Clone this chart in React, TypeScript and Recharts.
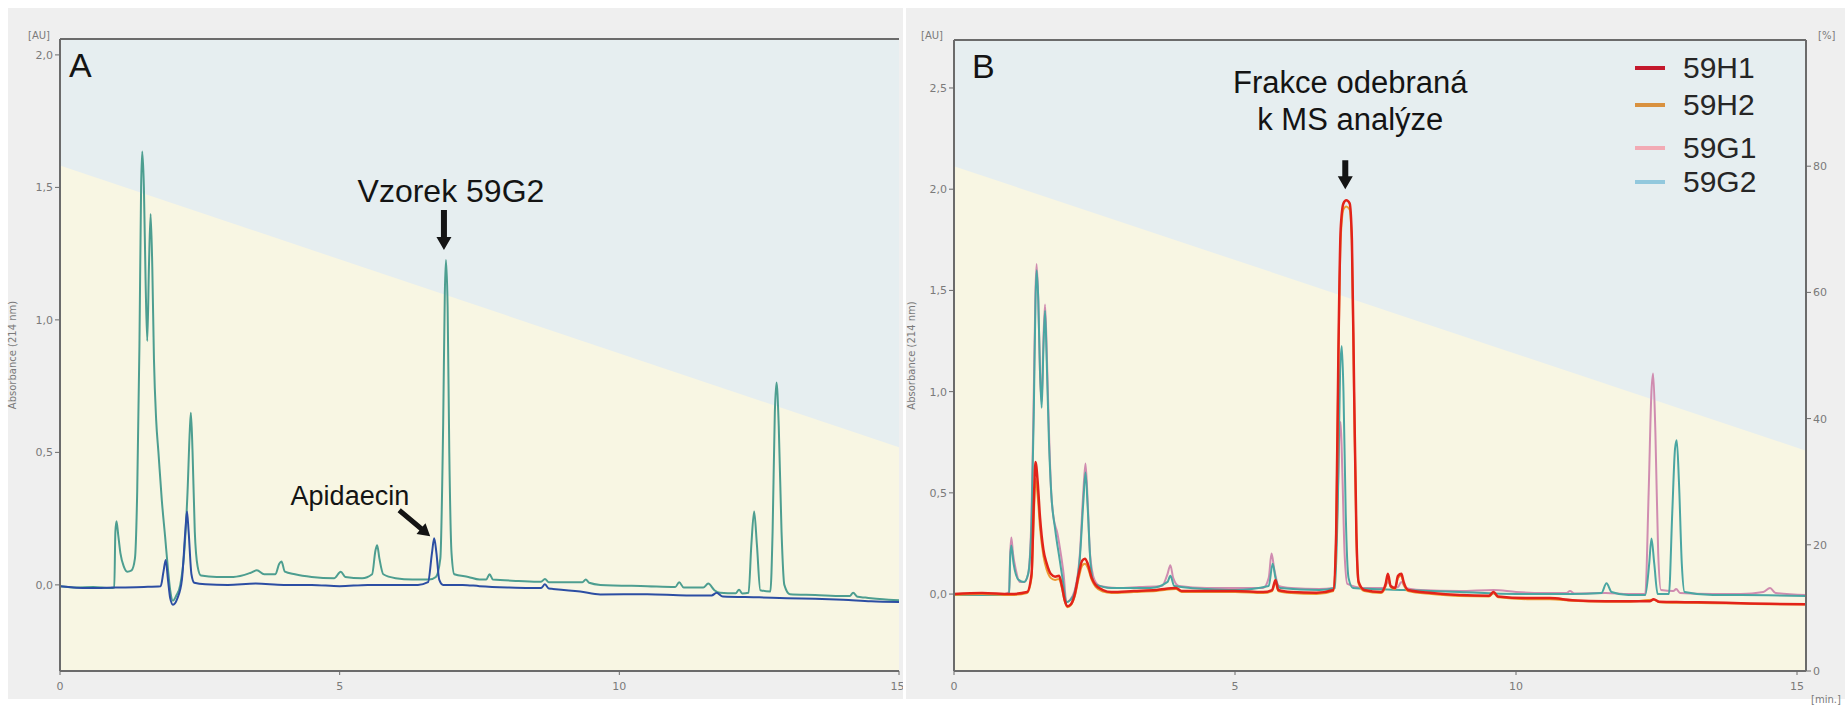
import React from "react";
import {
  ComposedChart,
  Line,
  Area,
  XAxis,
  YAxis,
  CartesianGrid,
  ReferenceLine,
  ReferenceDot,
  Legend,
} from "recharts";

type Trace = [number, number][];

// mobile phase gradient (% B), same program for both runs
const gradientTime = [0, 15.2];
const gradientPct = [80, 34.8];

const timeTicks = [0, 5, 10, 15];
const absTicksA = [0, 0.5, 1, 1.5, 2];
const absTicksB = [0, 0.5, 1, 1.5, 2, 2.5];
const pctTicks = [0, 20, 40, 60, 80];

const seriesNamesB = ["59H1", "59H2", "59G1", "59G2"];

// run A: fraction 59G2 and apidaecin standard, [min, AU]
const a59G2: Trace = [
  [0, -0.005], [0.3, -0.01], [0.6, -0.008], [0.9, -0.012], [0.97, -0.01], [0.99, 0.2], [1.01, 0.24],
  [1.04, 0.19], [1.08, 0.12], [1.14, 0.07], [1.2, 0.05], [1.28, 0.055], [1.34, 0.1], [1.38, 0.35],
  [1.42, 0.9], [1.45, 1.5], [1.47, 1.635], [1.5, 1.5], [1.53, 1.15], [1.56, 0.92], [1.59, 1.2],
  [1.62, 1.4], [1.65, 1.2], [1.68, 0.85], [1.72, 0.62], [1.76, 0.5], [1.82, 0.32], [1.88, 0.18],
  [1.93, 0.06], [1.97, -0.02], [2.02, -0.06], [2.08, -0.04], [2.15, 0.0], [2.22, 0.12], [2.28, 0.35],
  [2.32, 0.58], [2.34, 0.65], [2.37, 0.5], [2.41, 0.2], [2.46, 0.07], [2.52, 0.035], [2.8, 0.03],
  [3.1, 0.03], [3.4, 0.045], [3.52, 0.055], [3.65, 0.04], [3.85, 0.04], [3.92, 0.08], [3.96, 0.088],
  [4.02, 0.05], [4.2, 0.04], [4.5, 0.03], [4.9, 0.025], [5.02, 0.05], [5.1, 0.03], [5.4, 0.025],
  [5.58, 0.04], [5.64, 0.13], [5.67, 0.15], [5.71, 0.1], [5.78, 0.04], [6.0, 0.025], [6.3, 0.02],
  [6.6, 0.02], [6.72, 0.03], [6.8, 0.1], [6.85, 0.6], [6.88, 1.1], [6.9, 1.226], [6.93, 1.05],
  [6.96, 0.5], [7.0, 0.12], [7.05, 0.04], [7.3, 0.03], [7.5, 0.02], [7.62, 0.02], [7.68, 0.04],
  [7.74, 0.02], [8.2, 0.015], [8.6, 0.012], [8.67, 0.022], [8.74, 0.01], [9.0, 0.01], [9.34, 0.01],
  [9.4, 0.02], [9.46, 0.008], [9.66, 0.0], [10.5, -0.005], [11.0, -0.008], [11.07, 0.01],
  [11.15, -0.01], [11.5, -0.01], [11.59, 0.005], [11.7, -0.02], [11.8, -0.03], [12.08, -0.032],
  [12.14, -0.018], [12.2, -0.033], [12.31, -0.03], [12.36, 0.15], [12.41, 0.277], [12.46, 0.15],
  [12.52, -0.02], [12.7, -0.025], [12.74, 0.2], [12.78, 0.65], [12.81, 0.764], [12.85, 0.6],
  [12.9, 0.2], [12.95, 0.0], [13.05, -0.035], [13.5, -0.038], [14.0, -0.042], [14.12, -0.042],
  [14.18, -0.03], [14.26, -0.045], [14.4, -0.048], [14.9, -0.057], [15, -0.058],
];

const aApidaecin: Trace = [
  [0, -0.005], [0.5, -0.012], [1.0, -0.01], [1.5, -0.008], [1.8, -0.005], [1.85, 0.05], [1.89, 0.094],
  [1.93, 0.02], [1.97, -0.05], [2.02, -0.075], [2.1, -0.05], [2.18, 0.02], [2.24, 0.2], [2.27, 0.277],
  [2.3, 0.2], [2.35, 0.04], [2.4, 0.008], [2.6, 0.002], [3.0, 0.0], [3.5, 0.005], [4.0, 0.0], [4.5, 0.0],
  [5.0, -0.005], [5.5, 0.0], [6.0, 0.0], [6.4, 0.0], [6.58, 0.01], [6.65, 0.12], [6.69, 0.176],
  [6.73, 0.12], [6.78, 0.02], [6.85, 0.0], [7.2, 0.0], [7.5, -0.005], [8.0, -0.01], [8.4, -0.012],
  [8.6, -0.012], [8.67, 0.002], [8.74, -0.014], [8.8, -0.015], [9.3, -0.025], [9.66, -0.036],
  [10.5, -0.035], [11.2, -0.04], [11.65, -0.04], [11.74, -0.03], [11.85, -0.044], [12.5, -0.047],
  [13.0, -0.05], [13.5, -0.052], [14.0, -0.056], [14.5, -0.062], [15, -0.065],
];

// run B: four fractions
const b59H1: Trace = [
  [0, 0.0], [0.5, 0.005], [1.0, 0.0], [1.3, 0.01], [1.38, 0.1], [1.42, 0.45], [1.45, 0.653], [1.49, 0.55],
  [1.53, 0.38], [1.59, 0.22], [1.65, 0.15], [1.72, 0.1], [1.8, 0.086], [1.87, 0.09], [1.92, 0.04],
  [1.97, -0.03], [2.02, -0.06], [2.08, -0.05], [2.15, 0.0], [2.22, 0.1], [2.28, 0.165], [2.33, 0.175],
  [2.38, 0.15], [2.45, 0.08], [2.52, 0.045], [2.65, 0.02], [2.8, 0.01], [3.2, 0.015], [3.6, 0.02],
  [3.95, 0.03], [4.05, 0.015], [4.5, 0.015], [5.0, 0.015], [5.5, 0.01], [5.66, 0.02], [5.72, 0.07],
  [5.77, 0.02], [6.0, 0.01], [6.45, 0.006], [6.75, 0.02], [6.8, 0.3], [6.84, 1.2], [6.88, 1.8],
  [6.93, 1.93], [6.98, 1.945], [7.04, 1.93], [7.08, 1.75], [7.12, 1.0], [7.16, 0.3], [7.2, 0.06],
  [7.3, 0.02], [7.6, 0.01], [7.68, 0.05], [7.72, 0.1], [7.77, 0.04], [7.85, 0.03], [7.9, 0.09],
  [7.96, 0.1], [8.0, 0.06], [8.08, 0.02], [8.5, 0.005], [9.0, -0.005], [9.52, -0.008], [9.6, 0.01],
  [9.68, -0.012], [10.2, -0.02], [10.6, -0.02], [11.0, -0.03], [11.6, -0.035], [12.0, -0.035],
  [12.38, -0.035], [12.45, -0.025], [12.55, -0.038], [13.0, -0.04], [13.5, -0.042], [14.0, -0.045],
  [14.5, -0.048], [15.16, -0.05],
];

const b59H2: Trace = [
  [0, -0.005], [0.5, 0.0], [1.0, -0.005], [1.3, 0.005], [1.38, 0.08], [1.42, 0.38], [1.45, 0.57],
  [1.49, 0.48], [1.53, 0.33], [1.59, 0.19], [1.65, 0.12], [1.72, 0.08], [1.8, 0.07], [1.87, 0.075],
  [1.92, 0.03], [1.97, -0.035], [2.02, -0.065], [2.08, -0.055], [2.15, -0.01], [2.22, 0.08], [2.28, 0.14],
  [2.33, 0.15], [2.38, 0.13], [2.45, 0.07], [2.52, 0.035], [2.65, 0.012], [2.8, 0.005], [3.2, 0.01],
  [3.6, 0.015], [3.95, 0.025], [4.05, 0.01], [4.5, 0.01], [5.0, 0.01], [5.5, 0.005], [5.66, 0.015],
  [5.72, 0.06], [5.77, 0.015], [6.0, 0.005], [6.45, 0.0], [6.75, 0.015], [6.8, 0.28], [6.84, 1.15],
  [6.88, 1.75], [6.93, 1.9], [6.98, 1.915], [7.04, 1.9], [7.08, 1.72], [7.12, 0.95], [7.16, 0.28],
  [7.2, 0.05], [7.3, 0.015], [7.6, 0.005], [7.68, 0.04], [7.72, 0.09], [7.77, 0.035], [7.85, 0.025],
  [7.9, 0.08], [7.96, 0.09], [8.0, 0.05], [8.08, 0.015], [8.5, 0.0], [9.0, -0.01], [9.52, -0.012],
  [9.6, 0.005], [9.68, -0.016], [10.2, -0.025], [10.6, -0.025], [11.0, -0.033], [11.6, -0.038],
  [12.0, -0.038], [12.45, -0.028], [12.55, -0.04], [13.0, -0.043], [13.5, -0.045], [14.0, -0.047],
  [14.5, -0.05], [15.16, -0.052],
];

const b59G1: Trace = [
  [0, 0.0], [0.5, 0.0], [0.9, 0.0], [0.98, 0.01], [1.0, 0.2], [1.02, 0.28], [1.05, 0.2], [1.1, 0.12],
  [1.17, 0.06], [1.25, 0.06], [1.32, 0.1], [1.38, 0.4], [1.42, 1.0], [1.45, 1.5], [1.47, 1.63],
  [1.5, 1.45], [1.53, 1.1], [1.56, 0.95], [1.59, 1.25], [1.62, 1.43], [1.65, 1.2], [1.69, 0.8],
  [1.73, 0.5], [1.77, 0.38], [1.84, 0.3], [1.9, 0.2], [1.95, 0.1], [2.0, -0.04], [2.06, -0.03],
  [2.15, 0.02], [2.24, 0.2], [2.3, 0.5], [2.34, 0.645], [2.38, 0.45], [2.42, 0.2], [2.5, 0.07],
  [2.6, 0.04], [2.9, 0.03], [3.3, 0.035], [3.7, 0.04], [3.8, 0.1], [3.85, 0.143], [3.9, 0.08],
  [4.0, 0.04], [4.5, 0.03], [5.0, 0.03], [5.5, 0.03], [5.6, 0.08], [5.65, 0.2], [5.7, 0.12],
  [5.78, 0.04], [6.0, 0.03], [6.5, 0.025], [6.75, 0.03], [6.82, 0.4], [6.86, 0.8], [6.88, 0.85],
  [6.91, 0.6], [6.95, 0.2], [7.0, 0.05], [7.3, 0.03], [7.66, 0.03], [7.72, 0.06], [7.8, 0.03],
  [7.9, 0.035], [7.96, 0.06], [8.04, 0.03], [8.3, 0.02], [9.0, 0.015], [9.6, 0.02], [10.0, 0.01],
  [10.5, 0.005], [10.9, 0.005], [10.96, 0.015], [11.04, 0.003], [11.6, 0.005], [12.0, 0.0], [12.3, 0.0],
  [12.36, 0.5], [12.41, 1.0], [12.44, 1.09], [12.48, 0.8], [12.53, 0.2], [12.58, 0.02], [12.8, 0.015],
  [12.85, 0.025], [12.92, 0.005], [13.5, 0.0], [14.0, 0.0], [14.4, 0.01], [14.52, 0.03], [14.62, 0.005],
  [15.16, -0.005],
];

const b59G2: Trace = [
  [0, -0.005], [0.98, -0.005], [1.0, 0.18], [1.02, 0.24], [1.06, 0.15], [1.15, 0.07], [1.25, 0.06],
  [1.32, 0.1], [1.38, 0.35], [1.42, 0.9], [1.45, 1.45], [1.47, 1.6], [1.5, 1.45], [1.53, 1.1],
  [1.56, 0.92], [1.59, 1.2], [1.62, 1.4], [1.65, 1.15], [1.69, 0.75], [1.73, 0.5], [1.8, 0.32],
  [1.88, 0.17], [1.94, 0.06], [2.0, -0.04], [2.07, -0.03], [2.15, 0.01], [2.24, 0.18], [2.3, 0.45],
  [2.34, 0.6], [2.38, 0.42], [2.43, 0.15], [2.5, 0.05], [2.8, 0.03], [3.5, 0.03], [3.8, 0.06],
  [3.85, 0.09], [3.92, 0.04], [4.5, 0.025], [5.0, 0.02], [5.6, 0.04], [5.67, 0.15], [5.72, 0.08],
  [5.8, 0.03], [6.5, 0.02], [6.78, 0.03], [6.84, 0.6], [6.87, 1.1], [6.9, 1.225], [6.93, 1.0],
  [6.97, 0.4], [7.02, 0.08], [7.1, 0.03], [8.0, 0.02], [9.0, 0.01], [10.0, 0.0], [11.0, 0.0],
  [11.52, 0.005], [11.61, 0.053], [11.7, 0.01], [12.0, -0.005], [12.3, -0.005], [12.37, 0.15],
  [12.41, 0.275], [12.46, 0.15], [12.52, 0.0], [12.72, 0.0], [12.78, 0.4], [12.83, 0.72], [12.86, 0.76],
  [12.9, 0.55], [12.95, 0.15], [13.0, 0.01], [13.5, -0.005], [14.0, -0.005], [15.16, -0.01],
];

const W = 1845;
const H = 709;

const C = {
  page: "#ffffff",
  panel: "#efefef",
  upper: "#e6eef0",
  lower: "#f8f6e3",
  axis: "#6b6b6b",
  tick: "#7a7a7a",
  ink: "#141414",
  tealA: "#4d9e90",
  blueA: "#2c4ea3",
  red: "#e2231a",
  orange: "#ec9a32",
  pink: "#d08cb0",
  tealB: "#4aa6a2",
};

const lineColorB: Record<string, string> = {
  "59H1": C.red,
  "59H2": C.orange,
  "59G1": C.pink,
  "59G2": C.tealB,
};

const swatchColorB: Record<string, string> = {
  "59H1": "#c4182c",
  "59H2": "#d9913f",
  "59G1": "#f2aab4",
  "59G2": "#92c8dd",
};

const LABEL_FONT = "'Liberation Sans', Arial, sans-serif";
const TICK_FONT = "'DejaVu Sans', sans-serif";

const toPoints = (trace: Trace) => trace.map(([t, v]) => ({ t, v }));
const gradientPoints = gradientTime.map((t, i) => ({ t, pct: gradientPct[i] }));
const fmtAbs = (v: number) => v.toFixed(1).replace(".", ",");
const peakOf = (trace: Trace, from: number, to: number) =>
  trace.filter(([t]) => t >= from && t <= to).reduce((a, b) => (b[1] > a[1] ? b : a));

const tickStyle = { fontSize: 11, fill: C.tick, fontFamily: TICK_FONT };
const axisStroke = { stroke: C.axis, strokeWidth: 2 };

function downArrowPath(x: number, y1: number, y2: number) {
  const h = 13;
  return `M${x - 3},${y1} L${x + 3},${y1} L${x + 3},${y2 - h} L${x + 7.5},${y2 - h} L${x},${y2} L${x - 7.5},${y2 - h} L${x - 3},${y2 - h} Z`;
}

function slantArrow(x1: number, y1: number, x2: number, y2: number) {
  const len = Math.hypot(x2 - x1, y2 - y1);
  const ang = (Math.atan2(y2 - y1, x2 - x1) * 180) / Math.PI;
  const h = 12;
  const d = `M0,-2.5 L${len - h},-2.5 L${len - h},-7 L${len},0 L${len - h},7 L${len - h},2.5 L0,2.5 Z`;
  return <path d={d} fill={C.ink} transform={`translate(${x1},${y1}) rotate(${ang})`} />;
}

function SampleNote(props: any) {
  const { cx, cy } = props;
  return (
    <g>
      <text x={cx + 5} y={cy - 58} textAnchor="middle" fontSize={32} fontFamily={LABEL_FONT} fill={C.ink}>
        Vzorek 59G2
      </text>
      <path d={downArrowPath(cx - 2, cy - 50, cy - 10)} fill={C.ink} />
    </g>
  );
}

function StandardNote(props: any) {
  const { cx, cy } = props;
  return (
    <g>
      <text x={cx - 25} y={cy - 33} textAnchor="end" fontSize={27} fontFamily={LABEL_FONT} fill={C.ink}>
        Apidaecin
      </text>
      {slantArrow(cx - 35, cy - 28, cx - 4, cy - 2)}
    </g>
  );
}

function FractionNote(props: any) {
  const { cx, cy } = props;
  return (
    <g>
      <text x={cx + 4} y={cy - 107} textAnchor="middle" fontSize={31} fontFamily={LABEL_FONT} fill={C.ink}>
        Frakce odebraná
      </text>
      <text x={cx + 4} y={cy - 70} textAnchor="middle" fontSize={31} fontFamily={LABEL_FONT} fill={C.ink}>
        k MS analýze
      </text>
      <path d={downArrowPath(cx - 1, cy - 40, cy - 11)} fill={C.ink} />
    </g>
  );
}

// pairs of entries sit closer together than the two groups
const legendRowTop = [5, 42, 85, 119];

function FractionLegend({ payload }: any) {
  const items = (payload || [])
    .filter((p: any) => seriesNamesB.includes(p.value))
    .sort((a: any, b: any) => seriesNamesB.indexOf(a.value) - seriesNamesB.indexOf(b.value));
  return (
    <div style={{ position: "relative", width: 160, height: 160 }}>
      {items.map((p: any, i: number) => (
        <div
          key={p.value}
          style={{
            position: "absolute",
            left: 0,
            top: legendRowTop[i],
            height: 30,
            lineHeight: "30px",
            display: "flex",
            alignItems: "center",
            fontFamily: LABEL_FONT,
            fontSize: 30,
            color: "#262626",
          }}
        >
          <span style={{ width: 30, height: 4, background: swatchColorB[p.value], marginRight: 18 }} />
          {p.value}
        </div>
      ))}
    </div>
  );
}

const unitStyle: React.CSSProperties = {
  position: "absolute",
  fontFamily: TICK_FONT,
  fontSize: 10,
  color: C.tick,
  lineHeight: "12px",
};

const panelLetter: React.CSSProperties = {
  position: "absolute",
  fontFamily: LABEL_FONT,
  fontSize: 34,
  lineHeight: "34px",
  color: C.ink,
};

function RunA() {
  const xMax = 15;
  const yDom: [number, number] = [-0.325, 2.06];
  const [pt, pv] = peakOf(a59G2, 6.5, 7.2);
  const [st, sv] = peakOf(aApidaecin, 6.5, 6.8);
  return (
    <ComposedChart width={903} height={H} margin={{ top: 39, right: 4, bottom: 8, left: 10 }}>
      <CartesianGrid fill={C.upper} horizontal={false} vertical={false} xAxisId="t" yAxisId="abs" />
      <XAxis
        xAxisId="t"
        type="number"
        dataKey="t"
        domain={[0, xMax]}
        ticks={timeTicks}
        allowDataOverflow
        height={30}
        tickSize={4}
        tickMargin={7}
        axisLine={axisStroke}
        tickLine={{ stroke: C.axis }}
        tick={tickStyle}
      />
      <YAxis
        yAxisId="abs"
        type="number"
        domain={yDom}
        ticks={absTicksA}
        allowDataOverflow
        width={50}
        tickSize={5}
        tickFormatter={fmtAbs}
        axisLine={axisStroke}
        tickLine={{ stroke: C.axis }}
        tick={tickStyle}
        label={{
          value: "Absorbance (214 nm)",
          angle: -90,
          position: "insideLeft",
          offset: 2,
          style: { fontSize: 10, fill: C.tick, fontFamily: TICK_FONT, textAnchor: "middle" },
        }}
      />
      <YAxis yAxisId="pct" hide type="number" domain={[0, 100]} allowDataOverflow />
      <Area
        xAxisId="t"
        yAxisId="pct"
        data={gradientPoints}
        dataKey="pct"
        type="linear"
        stroke="none"
        fill={C.lower}
        fillOpacity={1}
        legendType="none"
        isAnimationActive={false}
      />
      <ReferenceLine xAxisId="t" yAxisId="abs" y={yDom[1]} stroke={C.axis} strokeWidth={2} />
      <Line
        xAxisId="t"
        yAxisId="abs"
        data={toPoints(a59G2)}
        dataKey="v"
        name="59G2"
        type="monotone"
        stroke={C.tealA}
        strokeWidth={2}
        dot={false}
        isAnimationActive={false}
      />
      <Line
        xAxisId="t"
        yAxisId="abs"
        data={toPoints(aApidaecin)}
        dataKey="v"
        name="Apidaecin"
        type="monotone"
        stroke={C.blueA}
        strokeWidth={2}
        dot={false}
        isAnimationActive={false}
      />
      <ReferenceDot xAxisId="t" yAxisId="abs" x={pt} y={pv} shape={(p: any) => <SampleNote {...p} />} />
      <ReferenceDot xAxisId="t" yAxisId="abs" x={st} y={sv} shape={(p: any) => <StandardNote {...p} />} />
    </ComposedChart>
  );
}

function RunB() {
  const xMax = 15.16;
  const yDom: [number, number] = [-0.38, 2.737];
  const [ft, fv] = peakOf(b59H1, 6.5, 7.5);
  const traces: Record<string, Trace> = { "59H1": b59H1, "59H2": b59H2, "59G1": b59G1, "59G2": b59G2 };
  // red fraction drawn last so it sits on top
  const drawOrder = ["59G1", "59G2", "59H2", "59H1"];
  return (
    <ComposedChart width={940} height={H} margin={{ top: 40, right: 4, bottom: 8, left: 4 }}>
      <CartesianGrid fill={C.upper} horizontal={false} vertical={false} xAxisId="t" yAxisId="abs" />
      <XAxis
        xAxisId="t"
        type="number"
        dataKey="t"
        domain={[0, xMax]}
        ticks={timeTicks}
        allowDataOverflow
        height={30}
        tickSize={4}
        tickMargin={7}
        axisLine={axisStroke}
        tickLine={{ stroke: C.axis }}
        tick={tickStyle}
      />
      <YAxis
        yAxisId="abs"
        type="number"
        domain={yDom}
        ticks={absTicksB}
        allowDataOverflow
        width={45}
        tickSize={5}
        tickFormatter={fmtAbs}
        axisLine={axisStroke}
        tickLine={{ stroke: C.axis }}
        tick={tickStyle}
        label={{
          value: "Absorbance (214 nm)",
          angle: -90,
          position: "insideLeft",
          offset: 2,
          style: { fontSize: 10, fill: C.tick, fontFamily: TICK_FONT, textAnchor: "middle" },
        }}
      />
      <YAxis
        yAxisId="pct"
        orientation="right"
        type="number"
        domain={[0, 100]}
        ticks={pctTicks}
        allowDataOverflow
        width={35}
        tickSize={5}
        axisLine={axisStroke}
        tickLine={{ stroke: C.axis }}
        tick={tickStyle}
      />
      <Area
        xAxisId="t"
        yAxisId="pct"
        data={gradientPoints}
        dataKey="pct"
        type="linear"
        stroke="none"
        fill={C.lower}
        fillOpacity={1}
        legendType="none"
        isAnimationActive={false}
      />
      <ReferenceLine xAxisId="t" yAxisId="abs" y={yDom[1]} stroke={C.axis} strokeWidth={2} />
      {drawOrder.map((name) => (
        <Line
          key={name}
          xAxisId="t"
          yAxisId="abs"
          data={toPoints(traces[name])}
          dataKey="v"
          name={name}
          type="monotone"
          stroke={lineColorB[name]}
          strokeWidth={name === "59H1" ? 2.5 : 2}
          dot={false}
          isAnimationActive={false}
        />
      ))}
      <ReferenceDot xAxisId="t" yAxisId="abs" x={ft} y={fv} shape={(p: any) => <FractionNote {...p} />} />
      <Legend
        layout="horizontal"
        verticalAlign="middle"
        align="center"
        content={<FractionLegend />}
        wrapperStyle={{ position: "absolute", left: 730, top: 48, width: 160, height: 160 }}
      />
    </ComposedChart>
  );
}

export default function App() {
  return (
    <div
      style={{
        position: "absolute",
        left: 0,
        top: 0,
        width: W,
        height: H,
        background: C.page,
        overflow: "hidden",
        fontFamily: TICK_FONT,
      }}
    >
      <div style={{ position: "absolute", left: 8, top: 8, width: 895, height: 691, background: C.panel }} />
      <div style={{ position: "absolute", left: 906, top: 8, width: 939, height: 691, background: C.panel }} />

      <div style={{ position: "absolute", left: 0, top: 0, width: 903, height: H, overflow: "hidden" }}>
        <RunA />
        <div style={{ ...unitStyle, left: 28, top: 30 }}>[AU]</div>
        <div style={{ ...panelLetter, left: 69, top: 48 }}>A</div>
      </div>

      <div style={{ position: "absolute", left: 905, top: 0, width: 940, height: H }}>
        <RunB />
        <div style={{ ...unitStyle, left: 16, top: 30 }}>[AU]</div>
        <div style={{ ...unitStyle, left: 913, top: 30 }}>[%]</div>
        <div style={{ ...unitStyle, left: 906, top: 694 }}>[min.]</div>
        <div style={{ ...panelLetter, left: 67, top: 49 }}>B</div>
      </div>
    </div>
  );
}
